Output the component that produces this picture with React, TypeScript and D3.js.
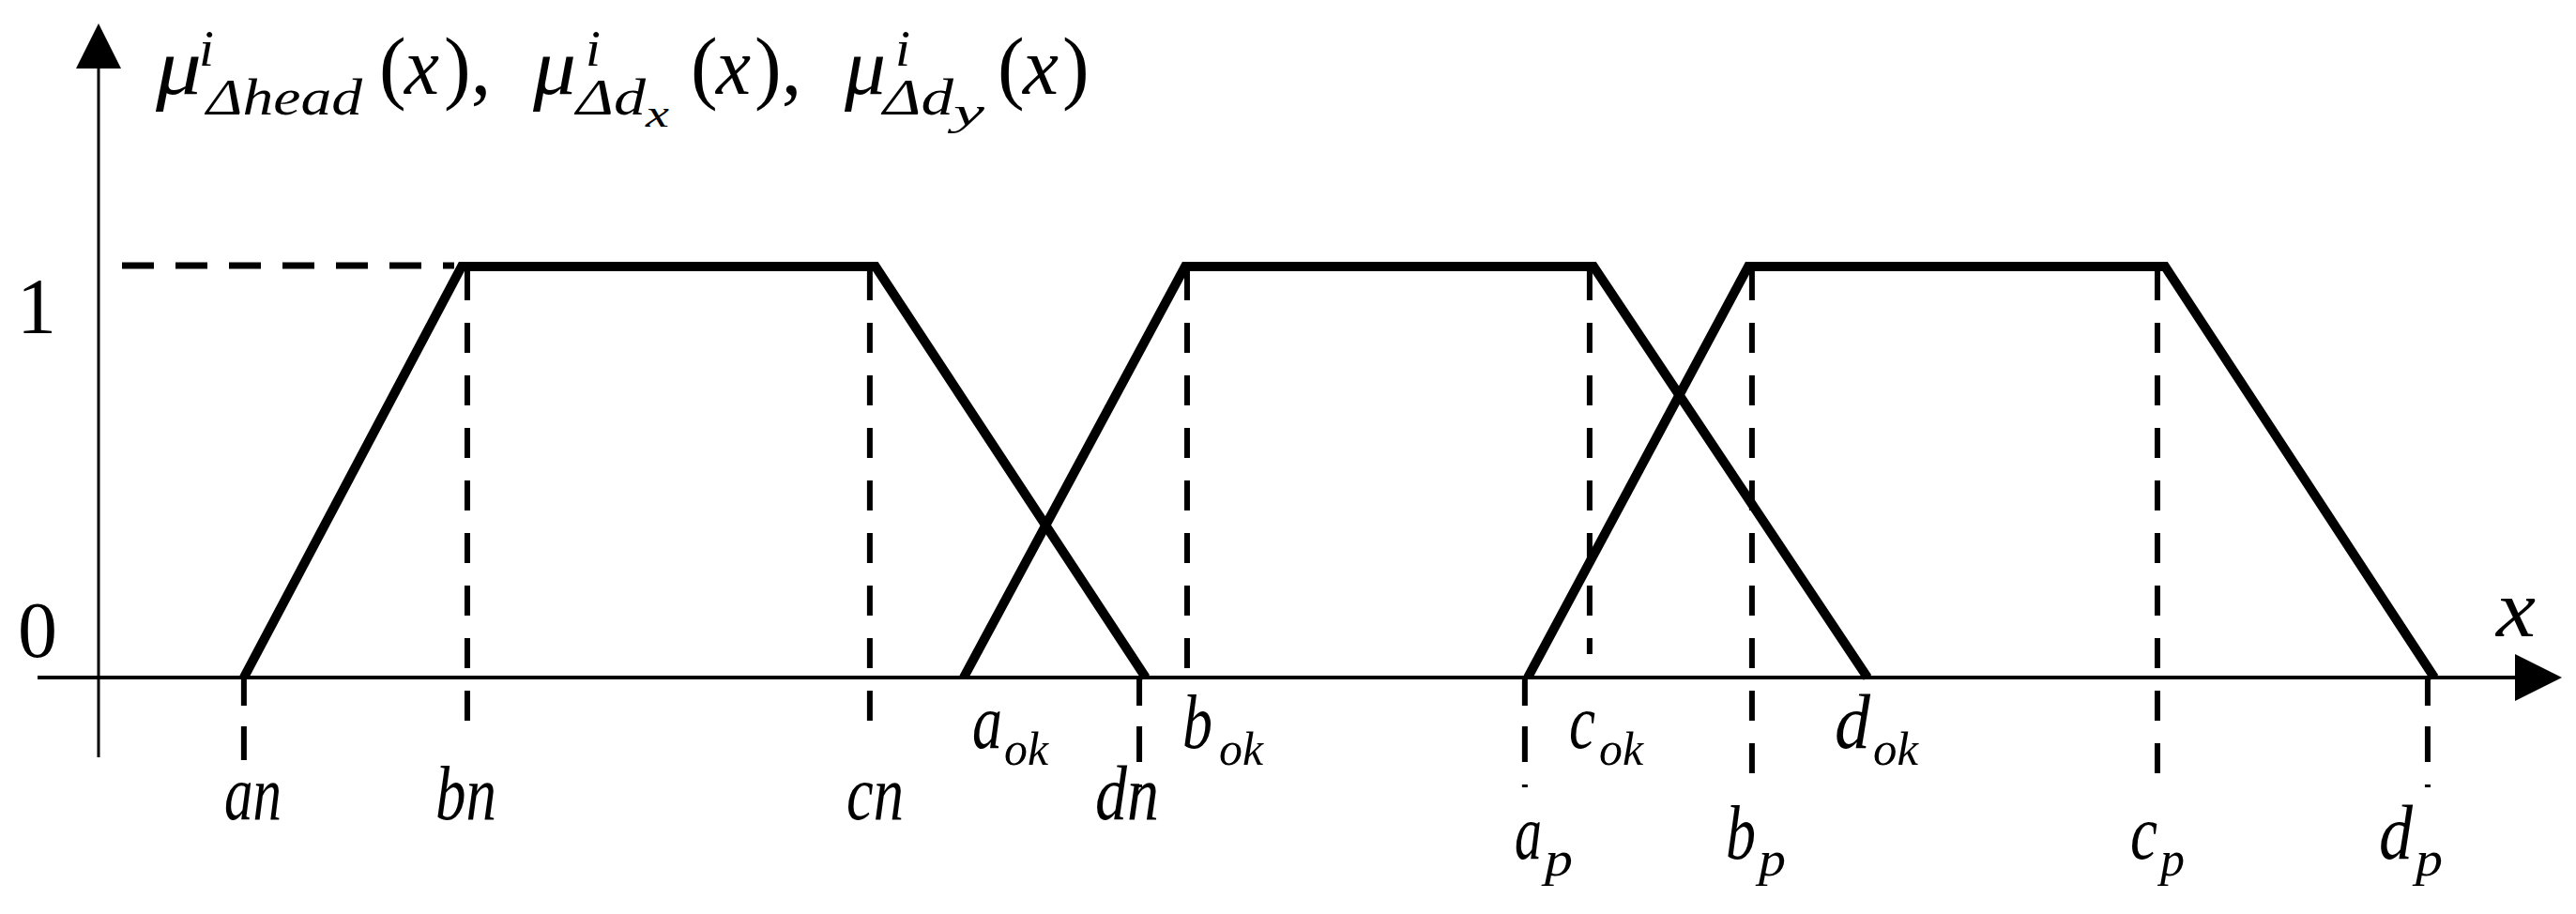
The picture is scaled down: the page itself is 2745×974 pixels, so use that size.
import React from 'react';
import * as d3 from 'd3';

// ---------------- data ----------------
const X_DOMAIN = [0, 100];
const MU_DOMAIN = [0, 1];
const SET_NAMES = ['n', 'ok', 'p'];
const N_BREAKS = [5.9, 14.74, 31.54, 42.51];
const OK_BREAKS = [35.12, 44.11, 60.69, 71.81];
const P_BREAKS = [58.02, 66.97, 83.89, 94.82];
const TRAP_MU = [0, 1, 1, 0];

const GUIDE_NAMES = ['a_n', 'b_n', 'c_n', 'd_n', 'b_ok', 'a_p', 'c_ok', 'b_p', 'c_p', 'd_p'];
const GUIDE_X = [5.9, 14.97, 31.31, 42.25, 44.19, 57.9, 60.53, 67.12, 83.58, 94.55];
const GUIDE_FROM_MU = [0, 1, 1, 0, 1, 0, 1, 1, 1, 0];

const Y_TICKS = ['0', '1'];
const LABEL_MAIN = ['a', 'b', 'c', 'd', 'a', 'b', 'c', 'd', 'a', 'b', 'c', 'd'];
const LABEL_SUB = ['n', 'n', 'n', 'n', 'ok', 'ok', 'ok', 'ok', 'p', 'p', 'p', 'p'];

// ---------------- layout ----------------
const W = 2745;
const H = 974;
const X_RANGE = [105, 2730];
const Y_RANGE = [722, 284];
const FONT = "'Liberation Serif', 'Times New Roman', serif";

const GUIDE_BOTTOM = [810, 773, 777, 840, 718, 840, 697, 848, 830, 840];

// label layout: [mainX, mainW, subX, subW]
const LABEL_POS = [
  [239, 29, 269, 31], [464, 39, 505, 24], [902, 28, 932, 31], [1167, 35, 1204, 31],
  [1036, 32, 1070, 47], [1260, 32, 1299, 47], [1672, 28, 1704, 47], [1955, 38, 1996, 48],
  [1614, 29, 1646, 30], [1839, 32, 1874, 29], [2270, 29, 2302, 26], [2535, 36, 2574, 29],
];
const ROW = {
  n: { base: 873, subBase: 873, fs: 82, subFs: 82 },
  ok: { base: 797, subBase: 815, fs: 82, subFs: 50 },
  p: { base: 915, subBase: 933, fs: 82, subFs: 52 },
};

export default function App() {
  const x = d3.scaleLinear().domain(X_DOMAIN).range(X_RANGE);
  const y = d3.scaleLinear().domain(MU_DOMAIN).range(Y_RANGE);
  const x0 = x(0);
  const y0 = y(0);
  const y1 = y(1);

  const line = d3
    .line<[number, number]>()
    .x((d) => x(d[0]))
    .y((d) => y(d[1]));

  const sets = [N_BREAKS, OK_BREAKS, P_BREAKS];
  const trapPaths = sets.map((b, i) => ({
    name: SET_NAMES[i],
    d: line(b.map((v, k) => [v, TRAP_MU[k]] as [number, number])) as string,
  }));

  const L = 'spacingAndGlyphs';

  return (
    <svg
      width={W}
      height={H}
      viewBox={`0 0 ${W} ${H}`}
      style={{ position: 'absolute', left: 0, top: 0, background: '#fff' }}
      fontFamily={FONT}
    >
      <rect x={0} y={0} width={W} height={H} fill="#fff" />

      {/* y axis */}
      <line x1={x0} x2={x0} y1={73} y2={807} stroke="#000" strokeWidth={3} />
      <polygon points={`${x0},25 ${x0 - 24},73 ${x0 + 24},73`} fill="#000" />

      {/* x axis */}
      <line x1={40} x2={2682} y1={y0} y2={y0} stroke="#000" strokeWidth={4} />
      <polygon points={`2730,${y0} 2680,${y0 - 25} 2680,${y0 + 25}`} fill="#000" />

      {/* dashed level 1 line */}
      <line
        x1={130}
        x2={x(N_BREAKS[1]) - 8}
        y1={y1 - 1}
        y2={y1 - 1}
        stroke="#000"
        strokeWidth={7}
        strokeDasharray="34 23"
      />

      {/* vertical guides */}
      {GUIDE_NAMES.map((g, i) => {
        const gx = x(GUIDE_X[i]);
        const fromTop = GUIDE_FROM_MU[i] === 1;
        const top = fromTop ? y1 + 4 : y0;
        return (
          <line
            key={g}
            x1={gx}
            x2={gx}
            y1={top}
            y2={GUIDE_BOTTOM[i]}
            stroke="#000"
            strokeWidth={6}
            strokeDasharray={fromTop ? '32 24' : '30 22 38 24 3 99'}
          />
        );
      })}

      {/* trapezoids */}
      {trapPaths.map((t) => (
        <path
          key={t.name}
          d={t.d}
          fill="none"
          stroke="#000"
          strokeWidth={10}
          strokeLinejoin="miter"
          strokeMiterlimit={4}
        />
      ))}

      {/* y tick labels */}
      <text x={40} y={y0 - 22} fontSize={84} textAnchor="middle">{Y_TICKS[0]}</text>
      <text x={39} y={355} fontSize={84} textAnchor="middle">{Y_TICKS[1]}</text>

      {/* x axis name */}
      <text x={2660} y={678} fontSize={86} fontStyle="italic" textLength={42} lengthAdjust={L}>x</text>

      {/* point labels */}
      {LABEL_MAIN.map((m, i) => {
        const s = LABEL_SUB[i];
        const r = ROW[s as 'n' | 'ok' | 'p'];
        const p = LABEL_POS[i];
        if (s === 'n') {
          return (
            <text key={m + s} fontStyle="italic" x={p[0]} y={r.base} fontSize={r.fs}
              textLength={p[2] + p[3] - p[0]} lengthAdjust={L}>
              {m + s}
            </text>
          );
        }
        return (
          <text key={m + s} fontStyle="italic">
            <tspan x={p[0]} y={r.base} fontSize={r.fs} textLength={p[1]} lengthAdjust={L}>{m}</tspan>
            <tspan x={p[2]} y={r.subBase} fontSize={r.subFs} textLength={p[3]} lengthAdjust={L}>{s}</tspan>
          </text>
        );
      })}

      {/* title */}
      <text fontStyle="italic">
        <tspan x={166} y={100} fontSize={86} textLength={49} lengthAdjust={L}>μ</tspan>
        <tspan x={212} y={70} fontSize={54} textLength={16} lengthAdjust={L}>i</tspan>
        <tspan x={220} y={122} fontSize={54} textLength={166} lengthAdjust={L}>Δhead</tspan>
        <tspan x={404} y={100} fontSize={86} fontStyle="normal">(</tspan>
        <tspan x={431} y={100} fontSize={86} textLength={37} lengthAdjust={L}>x</tspan>
        <tspan x={473} y={100} fontSize={86} fontStyle="normal">),</tspan>

        <tspan x={568} y={100} fontSize={86} textLength={46} lengthAdjust={L}>μ</tspan>
        <tspan x={624} y={70} fontSize={54} textLength={16} lengthAdjust={L}>i</tspan>
        <tspan x={614} y={122} fontSize={54} textLength={74} lengthAdjust={L}>Δd</tspan>
        <tspan x={688} y={135} fontSize={40} textLength={25} lengthAdjust={L}>x</tspan>
        <tspan x={736} y={100} fontSize={86} fontStyle="normal">(</tspan>
        <tspan x={763} y={100} fontSize={86} textLength={37} lengthAdjust={L}>x</tspan>
        <tspan x={804} y={100} fontSize={86} fontStyle="normal">),</tspan>

        <tspan x={900} y={100} fontSize={86} textLength={44} lengthAdjust={L}>μ</tspan>
        <tspan x={954} y={70} fontSize={54} textLength={16} lengthAdjust={L}>i</tspan>
        <tspan x={941} y={122} fontSize={54} textLength={75} lengthAdjust={L}>Δd</tspan>
        <tspan x={1016} y={133} fontSize={40} textLength={33} lengthAdjust={L}>y</tspan>
        <tspan x={1063} y={100} fontSize={86} fontStyle="normal">(</tspan>
        <tspan x={1090} y={100} fontSize={86} textLength={38} lengthAdjust={L}>x</tspan>
        <tspan x={1132} y={100} fontSize={86} fontStyle="normal">)</tspan>
      </text>
    </svg>
  );
}
